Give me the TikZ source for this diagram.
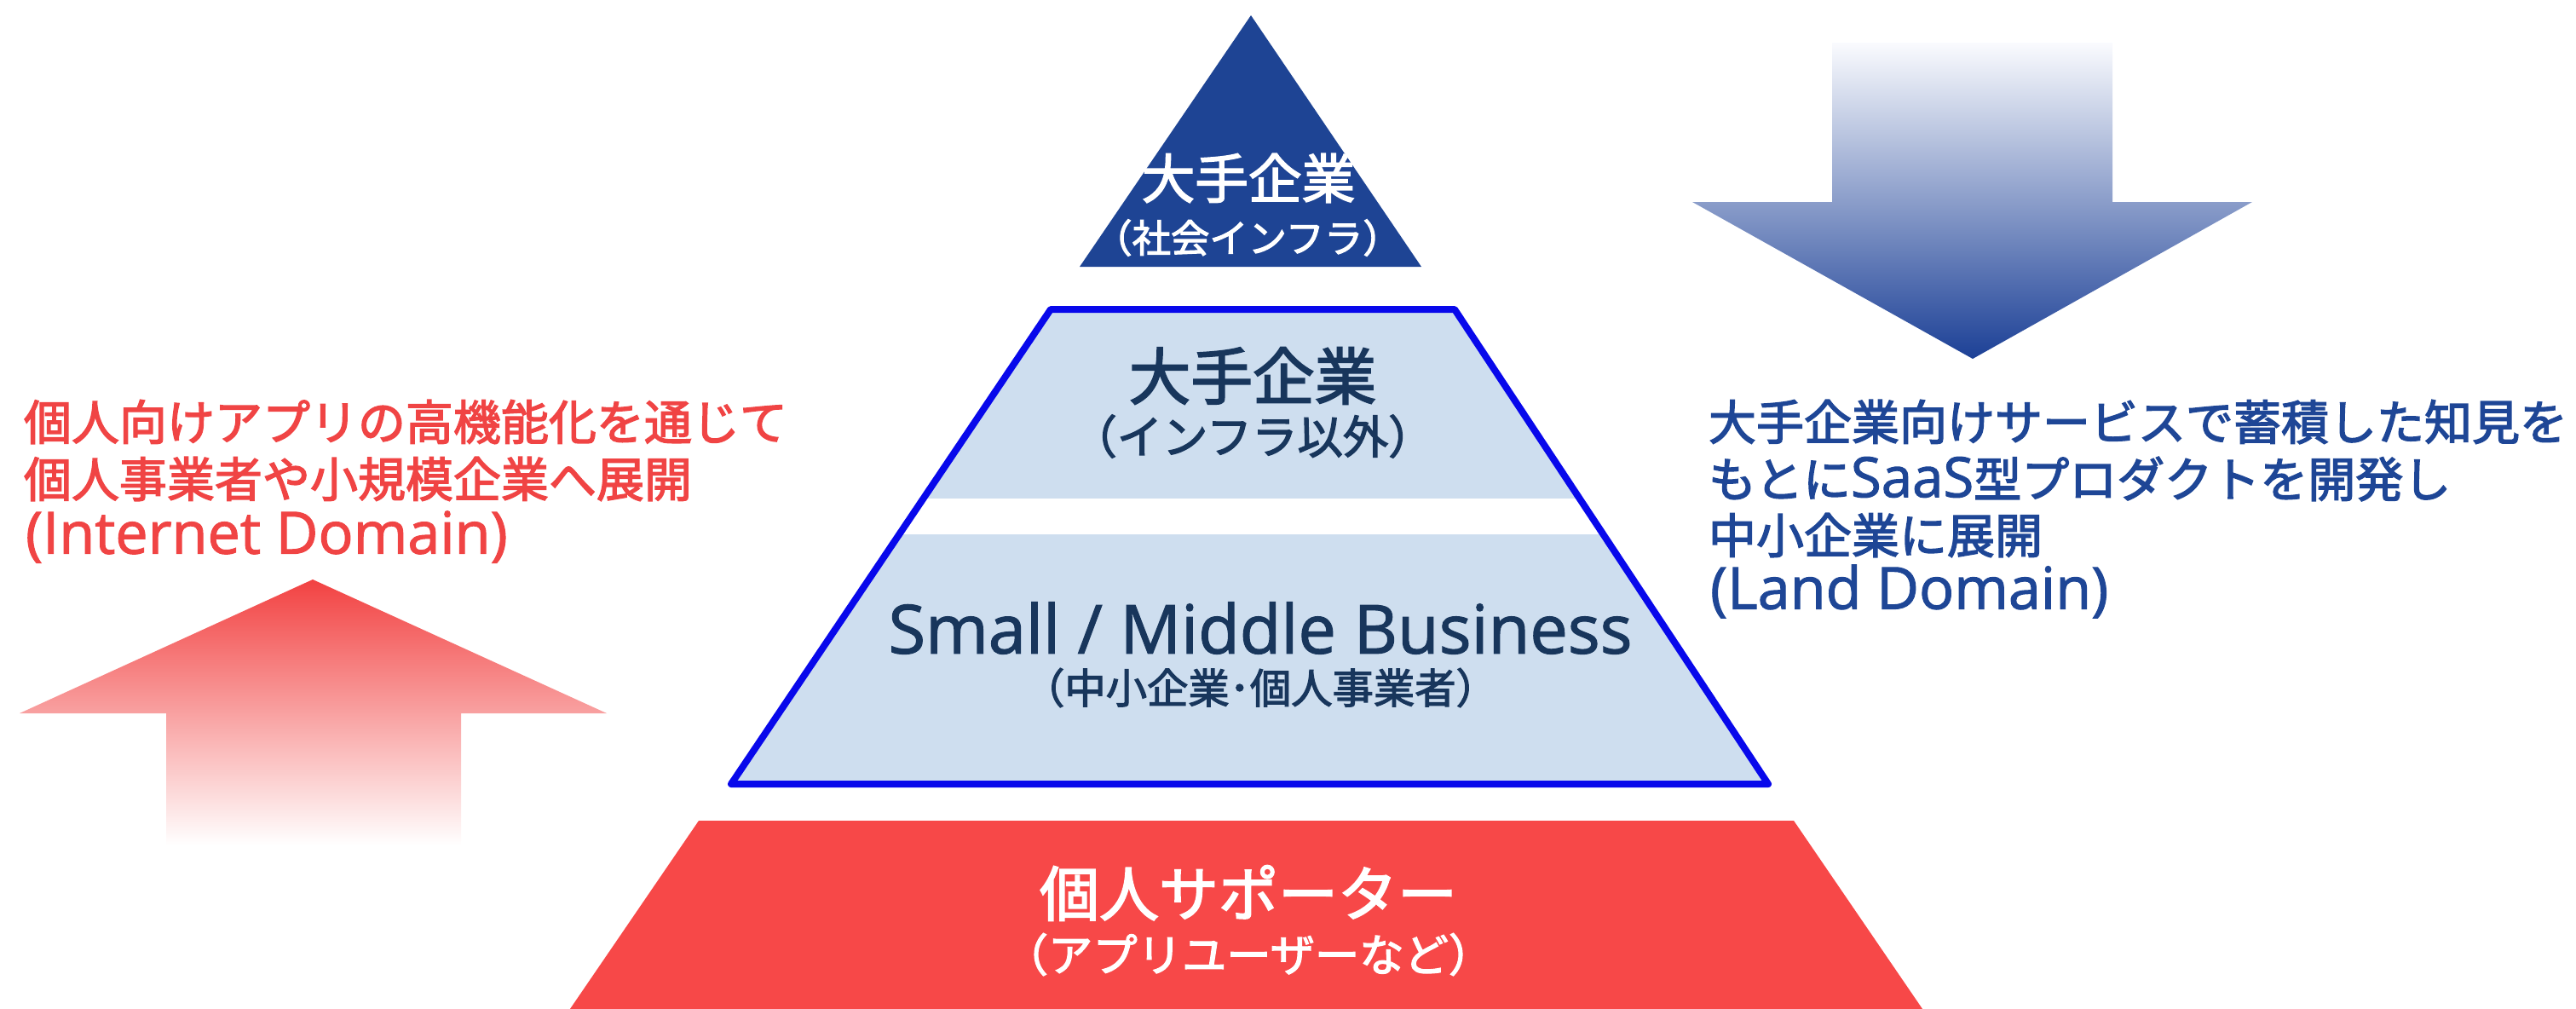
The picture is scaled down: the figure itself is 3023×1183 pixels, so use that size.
\documentclass[tikz,border=0pt]{standalone}
\usepackage{fontspec}
\setmainfont{Noto Sans CJK JP}[FakeBold=2.5]
\newfontfamily\lat{Open Sans}[FakeBold=1.5]
\definecolor{navy}{RGB}{30,68,148}
\definecolor{pyrblue}{RGB}{8,8,235}
\definecolor{pyrfill}{RGB}{206,222,239}
\definecolor{pyrtext}{RGB}{24,54,92}
\definecolor{supred}{RGB}{247,72,72}
\definecolor{txtred}{RGB}{240,68,68}
\definecolor{txtblue}{RGB}{30,70,150}
\definecolor{arrred}{RGB}{242,66,66}
\definecolor{arrblue}{RGB}{28,64,150}
\definecolor{arrtop}{RGB}{250,251,254}
\newcommand{\fsz}[1]{\fontsize{#1pt}{#1pt}\selectfont}
\newcommand{\latsz}[2]{{\lat\fontsize{#1pt}{#1pt}\selectfont #2}}
\tikzset{
  lbl/.style={inner sep=0pt, outer sep=0pt},
  sidered/.style={lbl, anchor=west, text=txtred, font=\fsz{16.8}},
  sideblue/.style={lbl, anchor=west, text=txtblue, font=\fsz{16.8}},
  pyrtitle/.style={lbl, text=pyrtext, font=\fsz{21.8}},
  pyrsub/.style={lbl, text=pyrtext, font=\fsz{16}},
}
\begin{document}
\begin{tikzpicture}[x=0.3pt,y=-0.3pt]
\useasboundingbox (0,0) rectangle (3023,1183);
\clip (0,0) rectangle (3023,1183);

% down arrow (blue, gradient)
\shade[top color=arrtop, bottom color=arrblue]
  (2150,50) -- (2479,50) -- (2479,237) -- (2643,237) -- (2315,421)
  -- (1986,237) -- (2150,237) -- cycle;

% up arrow (red, gradient)
\shade[top color=arrred, bottom color=white]
  (367,680) -- (712,837) -- (541,837) -- (541,992) -- (195,992)
  -- (195,837) -- (23,837) -- cycle;

% top triangle
\fill[navy] (1468,18) -- (1668,313) -- (1267,313) -- cycle;
\node[lbl, text=white, font=\fsz{18.8}] (topA) at (1465,209) {大手企業};
\node[lbl, text=white, font=\fsz{13.6}] (topB) at (1464,279) {（社会インフラ）};

% middle trapezoid
\coordinate (tl) at (1233,363);
\coordinate (tr) at (1707,363);
\coordinate (br) at (2075,920);
\coordinate (bl) at (858,920);
\fill[pyrfill] (tl) -- (tr) -- (br) -- (bl) -- cycle;
\begin{scope}
  \clip (tl) -- (tr) -- (br) -- (bl) -- cycle;
  \fill[white] (800,585) rectangle (2200,627);
\end{scope}
\draw[pyrblue, line width=2.4pt, line join=round] (tl) -- (tr) -- (br) -- (bl) -- cycle;
\node[pyrtitle] (midA) at (1470,441) {大手企業};
\node[pyrsub] (midB) at (1470,512) {（インフラ以外）};
\node[pyrtitle] (smbA) at (1479,737) {\latsz{23.8}{Small / Middle Business}};
\node[pyrsub, font=\fsz{14.5}] (smbB) at (1479,807) {（中小企業･個人事業者）};

% bottom red trapezoid
\fill[supred] (820,963) -- (2105,963) -- (2267,1200) -- (658,1200) -- cycle;
\node[lbl, text=white, font=\fsz{21}] (supA) at (1465,1048) {個人サポーター};
\node[lbl, text=white, font=\fsz{15.7}] (supB) at (1465,1120) {（アプリユーザーなど）};

% left text
\node[sidered] (l1) at (28,495) {個人向けアプリの高機能化を通じて};
\node[sidered] (l2) at (28,562) {個人事業者や小規模企業へ展開};
\node[sidered] (l3) at (30,630) {\latsz{20.5}{(Internet Domain)}};

% right text
\node[sideblue] (r1) at (2005,495) {大手企業向けサービスで蓄積した知見を};
\node[sideblue] (r2) at (2005,562) {もとに\latsz{19.6}{SaaS}型プロダクトを開発し};
\node[sideblue] (r3) at (2005,628) {中小企業に展開};
\node[sideblue] (r4) at (2007,694) {\latsz{20.5}{(Land Domain)}};
\end{tikzpicture}
\end{document}
